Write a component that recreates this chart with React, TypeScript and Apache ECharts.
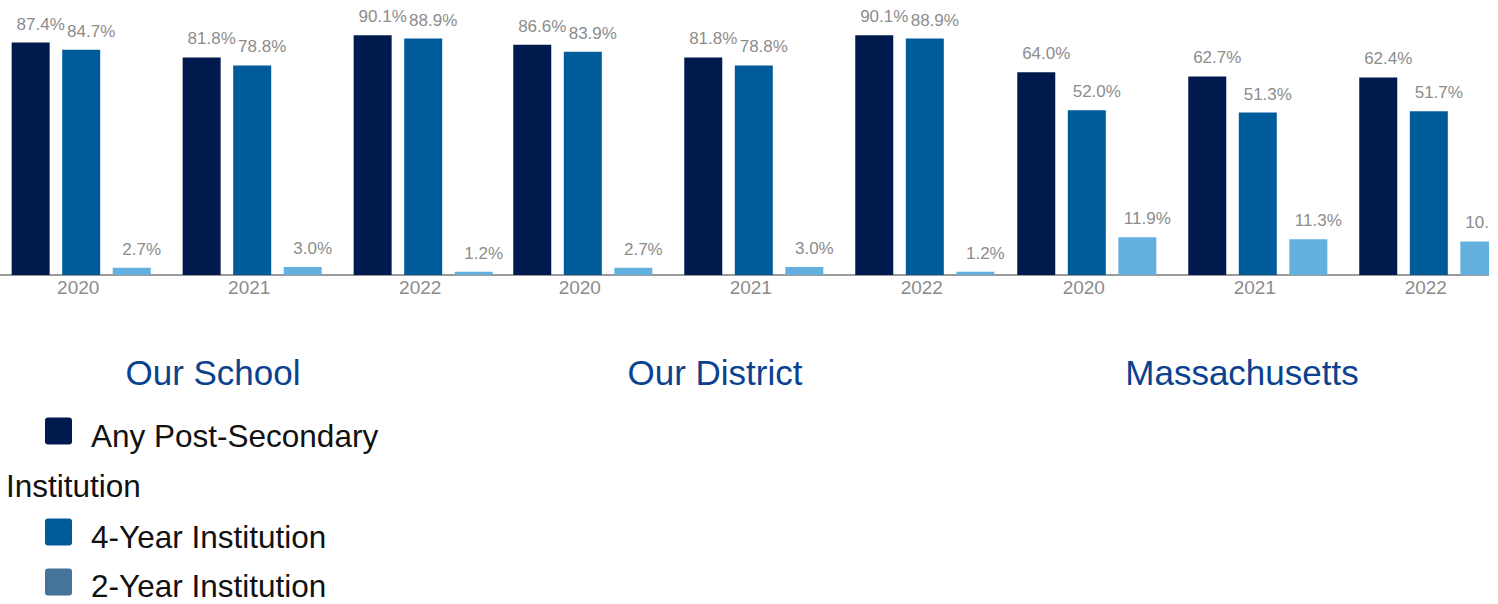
import React, { useEffect, useRef } from "react";
import * as echarts from "echarts";

// ---- data ----
const years = ["2020", "2021", "2022"];
const groupNames = ["Our School", "Our District", "Massachusetts"];
const seriesNames = ["Any Post-Secondary Institution", "4-Year Institution", "2-Year Institution"];
// values in order: School 2020-2022, District 2020-2022, Massachusetts 2020-2022
const anyPostSecondary = [87.4, 81.8, 90.1, 86.6, 81.8, 90.1, 64.0, 62.7, 62.4];
const fourYear = [84.7, 78.8, 88.9, 83.9, 78.8, 88.9, 52.0, 51.3, 51.7];
const twoYear = [2.7, 3.0, 1.2, 2.7, 3.0, 1.2, 11.9, 11.3, 10.6];
const yAxisMax = [100, 100, 84];

// ---- styling / layout ----
const barColors = ["#001a4d", "#005b9b", "#63b0de"];
const legendColors = ["#001a4d", "#005b9b", "#45739a"];
const SHIFT = 20; // inner canvas is shifted left so the first grid can start off-screen
const gridLeft = [-4.3, 497.3, 1001.3];
const gridWidth = 513;
const titleX = [213, 715, 1242];
const FONT = "'Liberation Sans', Arial, Helvetica, sans-serif";

export default function App() {
  const ref = useRef<HTMLDivElement>(null);

  useEffect(() => {
    if (!ref.current) return;
    const chart = echarts.init(ref.current, undefined, { renderer: "svg" });
    const seriesData = [anyPostSecondary, fourYear, twoYear];

    const grids = groupNames.map((_, i) => ({
      left: gridLeft[i] + SHIFT,
      width: gridWidth,
      top: 9,
      height: 266,
      containLabel: false,
    }));
    const xAxes = groupNames.map((_, i) => ({
      type: "category",
      gridIndex: i,
      data: years,
      axisTick: { show: false },
      axisLine: { show: true, lineStyle: { color: "#9a9a9a", width: 2 } },
      axisLabel: {
        color: "#8c8c8c",
        fontSize: 19,
        fontFamily: FONT,
        margin: 3,
        padding: [0, 6, 0, 0],
      },
    }));
    const yAxes = groupNames.map((_, i) => ({
      type: "value",
      gridIndex: i,
      min: 0,
      max: yAxisMax[i],
      show: false,
      splitLine: { show: false },
    }));
    const series: any[] = [];
    groupNames.forEach((_, g) => {
      seriesData.forEach((arr, s) => {
        series.push({
          type: "bar",
          name: seriesNames[s],
          xAxisIndex: g,
          yAxisIndex: g,
          data: arr.slice(g * 3, g * 3 + 3),
          barWidth: 38,
          barGap: "33%",
          itemStyle: { color: barColors[s] },
          label: {
            show: true,
            position: "top",
            distance: 10,
            offset: [10, 0],
            color: "#8c8c8c",
            fontSize: 17,
            fontFamily: FONT,
            formatter: (p: any) => Number(p.value).toFixed(1) + "%",
          },
        });
      });
    });

    const graphics: any[] = [];
    groupNames.forEach((name, i) => {
      graphics.push({
        type: "text",
        x: titleX[i] + SHIFT,
        y: 372,
        style: {
          text: name,
          fill: "#0b428f",
          font: `35px ${FONT}`,
          textAlign: "center",
          textVerticalAlign: "middle",
        },
      });
    });
    // legend (HTML-like flow, first label wraps)
    const squareY = [417.5, 518.5, 568.5];
    const textRows = [
      [{ x: 91, y: 436 }, { x: 6, y: 486 }],
      [{ x: 91, y: 537 }],
      [{ x: 91, y: 586 }],
    ];
    seriesNames.forEach((name, i) => {
      graphics.push({
        type: "rect",
        shape: { x: 45 + SHIFT, y: squareY[i], width: 27, height: 27, r: 3 },
        style: { fill: legendColors[i] },
      });
      const rows = textRows[i];
      let parts: string[];
      if (rows.length === 2) {
        const idx = name.lastIndexOf(" ");
        parts = [name.slice(0, idx), name.slice(idx + 1)];
      } else {
        parts = [name];
      }
      parts.forEach((t, k) => {
        graphics.push({
          type: "text",
          x: rows[k].x + SHIFT,
          y: rows[k].y,
          style: {
            text: t,
            fill: "#111111",
            font: `31.5px ${FONT}`,
            textAlign: "left",
            textVerticalAlign: "middle",
          },
        });
      });
    });

    chart.setOption({
      animation: false,
      backgroundColor: "#ffffff",
      grid: grids,
      xAxis: xAxes,
      yAxis: yAxes,
      series,
      graphic: graphics,
      tooltip: { show: false },
    });
    return () => chart.dispose();
  }, []);

  return (
    <div
      style={{
        position: "absolute",
        left: 0,
        top: 0,
        width: 1489,
        height: 604,
        overflow: "hidden",
        background: "#fff",
      }}
    >
      <div
        ref={ref}
        style={{ position: "absolute", left: -SHIFT, top: 0, width: 1560, height: 604 }}
      />
    </div>
  );
}
